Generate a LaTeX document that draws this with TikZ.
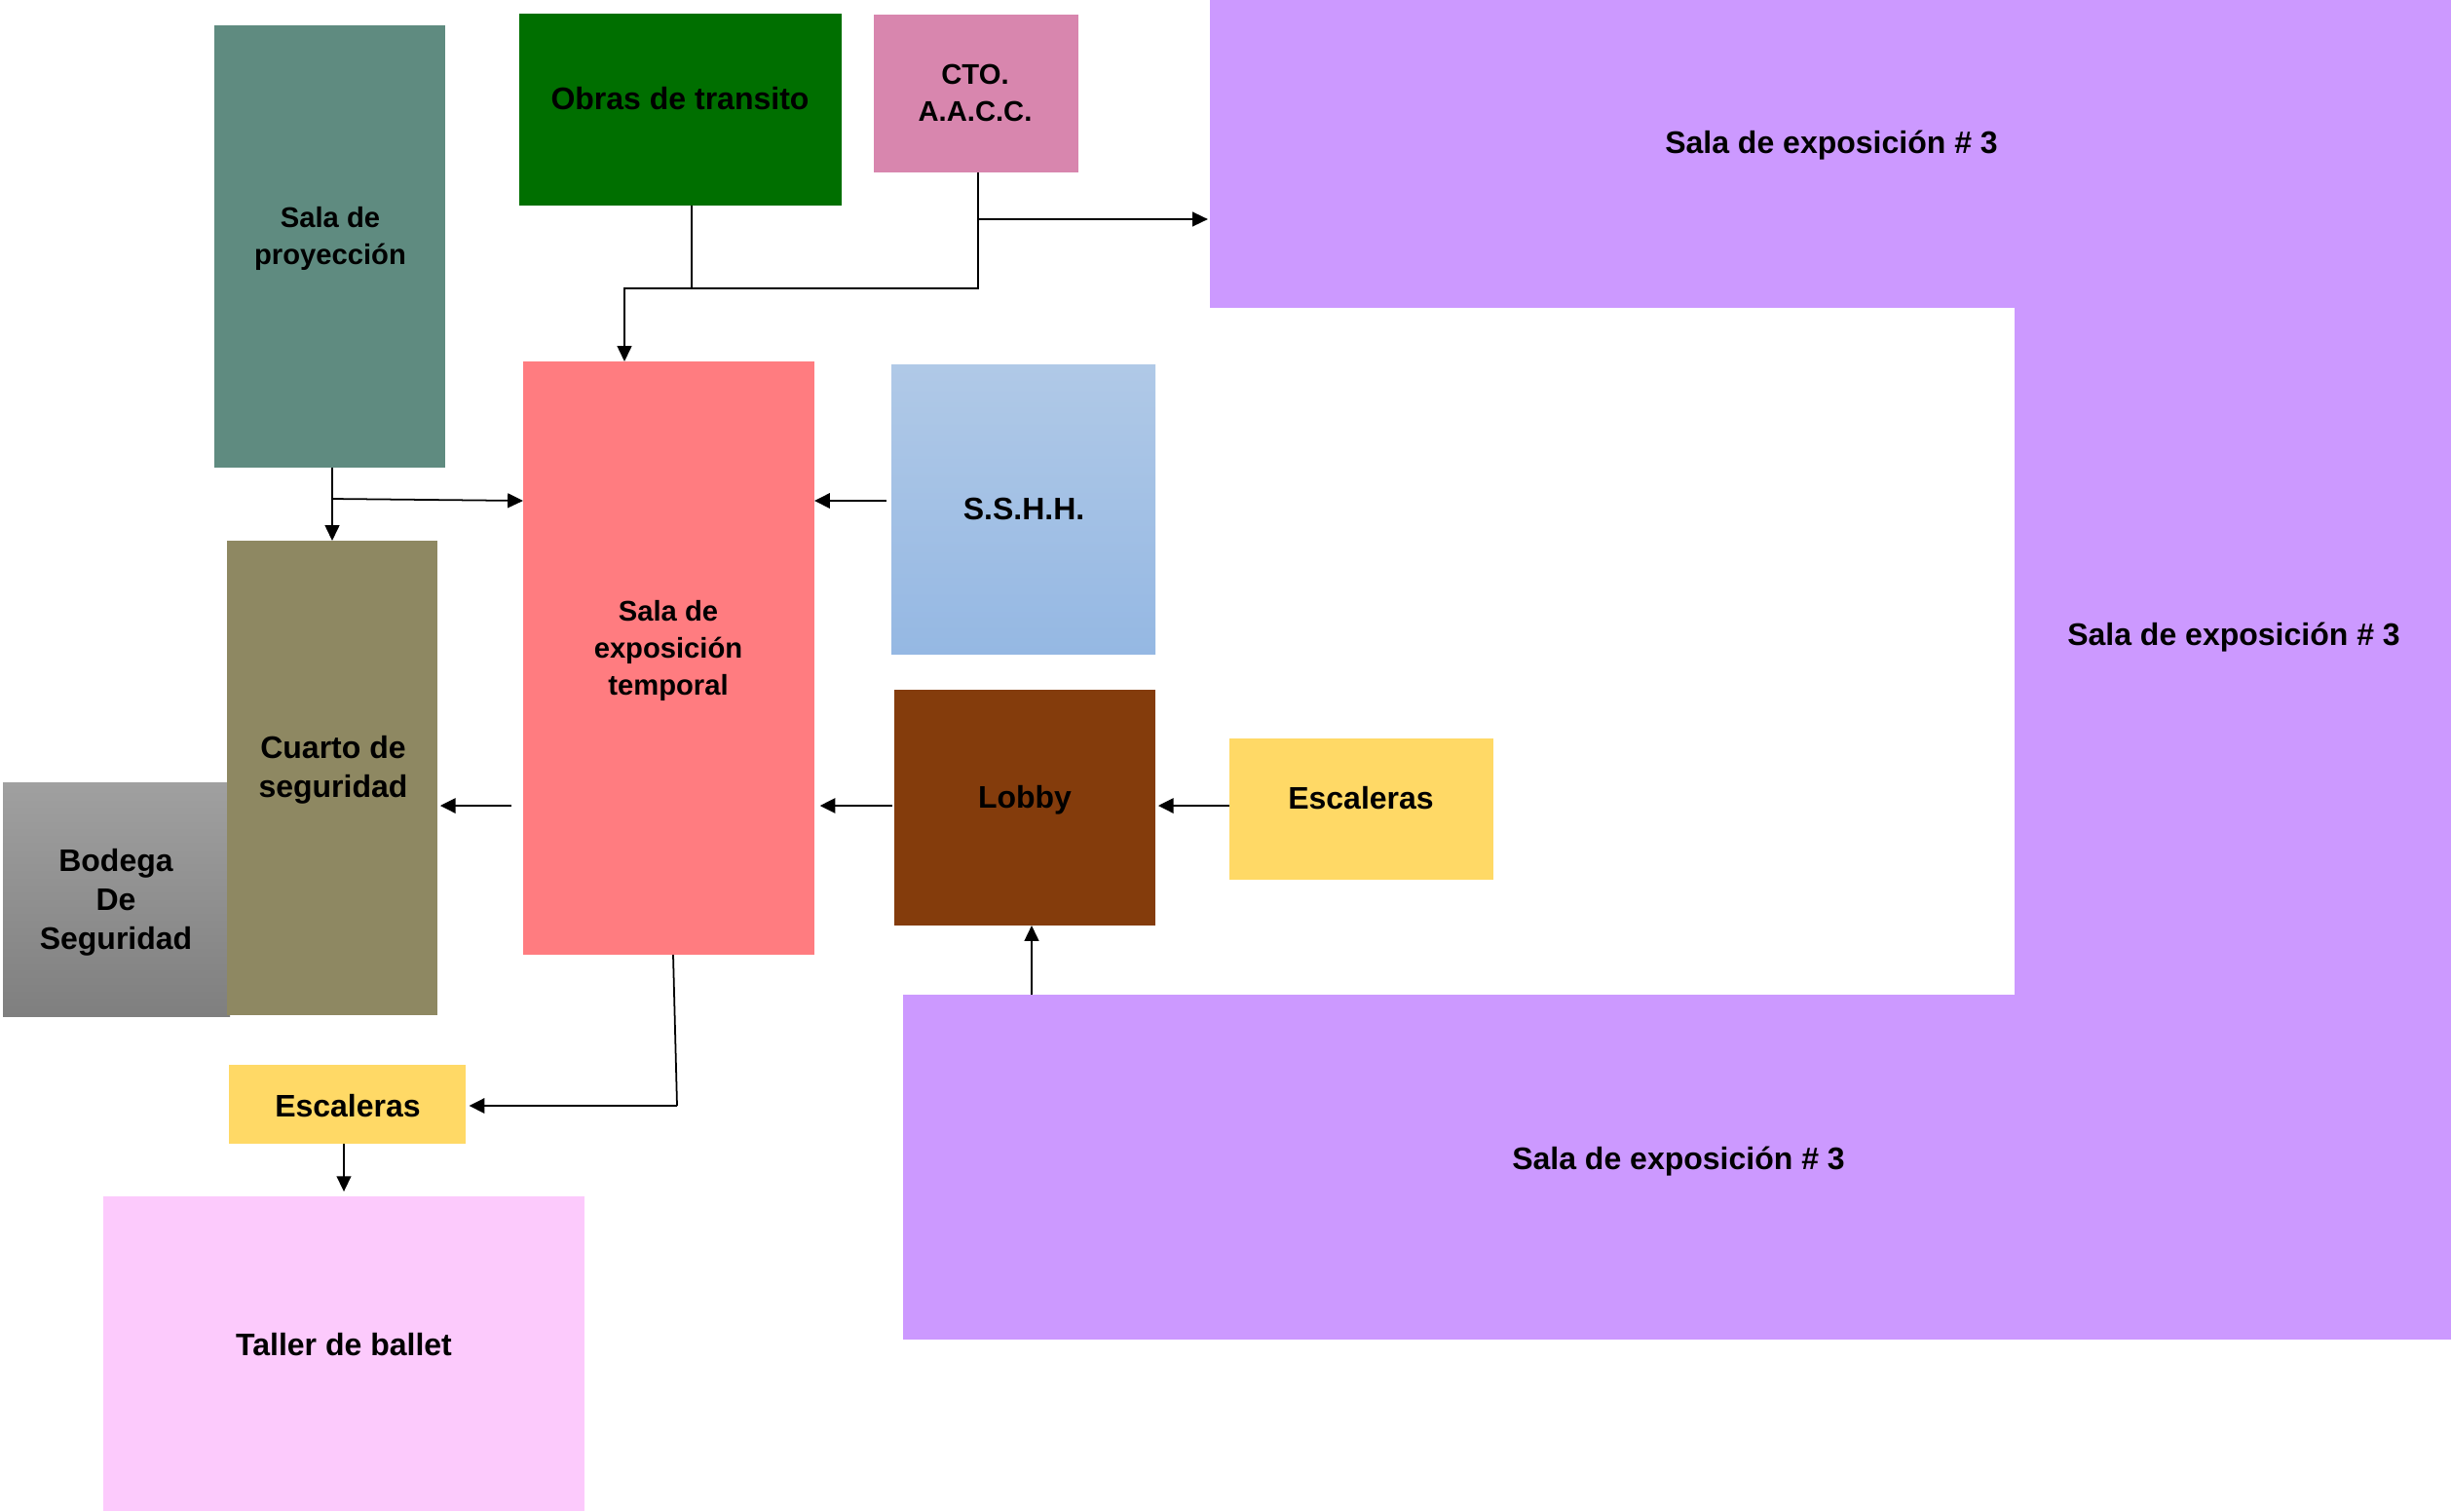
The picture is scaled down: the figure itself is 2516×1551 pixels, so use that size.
\documentclass[tikz,border=0pt]{standalone}
\usepackage{fontspec}
\setmainfont{Liberation Sans}
\usetikzlibrary{arrows.meta,fit}
\definecolor{proyC}{HTML}{5F8B80}
\definecolor{obrasC}{HTML}{006F00}
\definecolor{ctoC}{HTML}{D886AE}
\definecolor{purpC}{HTML}{CC99FF}
\definecolor{tempC}{HTML}{FF7C80}
\definecolor{sshhTop}{HTML}{B0C9E7}
\definecolor{sshhBot}{HTML}{95B8E3}
\definecolor{lobbyC}{HTML}{843C0C}
\definecolor{escC}{HTML}{FFD966}
\definecolor{cuartoC}{HTML}{8E8862}
\definecolor{bodTop}{HTML}{A0A0A0}
\definecolor{bodBot}{HTML}{7F7F7F}
\definecolor{tallerC}{HTML}{FCCAFC}
\begin{document}
\begin{tikzpicture}[x=0.01cm,y=-0.01cm,
  box/.style={inner sep=0pt,outer sep=0pt,draw=none},
  lblA/.style={font=\bfseries\fontsize{9.1}{11.4}\selectfont,align=center,inner sep=0pt,text=black},
  lblB/.style={font=\bfseries\fontsize{8.3}{10.8}\selectfont,align=center,inner sep=0pt,text=black},
  conn/.style={line width=0.5pt,black},
  arr/.style={conn,-{Triangle[length=4.5pt,width=4.2pt]}},
  arrthick/.style={line width=0.8pt,black,-{Triangle[length=4.5pt,width=4.3pt]}}
  ]
\fill[white] (0,0) rectangle (2516,1551);
\useasboundingbox (0,0) rectangle (2516,1551);

% purple exhibition hall (L-shape made of three parts)
\node[box,fill=purpC,fit={(1242,0) (2516,316)}] (salaTop) {};
\node[box,fill=purpC,fit={(2068,0) (2516,1375)}] (salaRight) {};
\node[box,fill=purpC,fit={(927,1021) (2516,1375)}] (salaBot) {};
\node[lblA] (salaTop-t) at (1880,149) {Sala de exposición \# 3};
\node[lblA] (salaRight-t) at (2293,654) {Sala de exposición \# 3};
\node[lblA] (salaBot-t) at (1723,1192) {Sala de exposición \# 3};

% boxes
\node[box,fill=proyC,fit={(220,26) (457,480)}] (proy) {};
\node[lblB] (proy-t) at (339,245) {Sala de\\proyección};

\node[box,fill=obrasC,fit={(533,14) (864,211)}] (obras) {};
\node[lblA] (obras-t) at (698,101) {Obras de transito};

\node[box,fill=ctoC,fit={(897,15) (1107,177)}] (cto) {};
\node[lblB] (cto-t) at (1001,95) {CTO.\\A.A.C.C.};

\node[box,fill=tempC,fit={(537,371) (836,980)}] (temporal) {};
\node[lblB] (temporal-t) at (686,668) {Sala de\\exposición\\temporal};

\node[box,top color=sshhTop,bottom color=sshhBot,fit={(915,374) (1186,671)}] (sshh) {};
\node[lblA] (sshh-t) at (1051,522) {S.S.H.H.};

\node[box,fill=lobbyC,fit={(918,708) (1186,950)}] (lobby) {};
\node[lblA] (lobby-t) at (1052,821) {Lobby};

\node[box,fill=escC,fit={(1262,758) (1533,903)}] (escR) {};
\node[lblA] (escR-t) at (1397,819) {Escaleras};

\node[box,top color=bodTop,bottom color=bodBot,fit={(3,803) (236,1043)}] (bodega) {};
\node[lblA] (bodega-t) at (119,926) {Bodega\\De\\Seguridad};

\node[box,fill=cuartoC,fit={(233,555) (449,1042)}] (cuarto) {};
\node[lblA] (cuarto-t) at (342,790) {Cuarto de\\seguridad};

\node[box,fill=escC,fit={(235,1093) (478,1174)}] (escL) {};
\node[lblA] (escL-t) at (357,1135) {Escaleras};

\node[box,fill=tallerC,fit={(106,1228) (600,1551)}] (taller) {};
\node[lblA] (taller-t) at (353,1380) {Taller de ballet};

% junction coordinates
\coordinate (ctoB) at (1004,177);
\coordinate (jCtoSala) at (1004,225);
\coordinate (jTop) at (1004,296);
\coordinate (jTemp) at (641,296);
\coordinate (jObras) at (710,296);
\coordinate (jProy) at (341,512);
\coordinate (jTempB) at (695,1135);

% connectors
\draw[arr] (ctoB) -- (jTop) -- (jTemp) -- (jTemp |- temporal.north);
\draw[conn] (jObras |- obras.south) -- (jObras);
\draw[arr] (jCtoSala) -- ([xshift=-0.6pt]salaTop.west |- jCtoSala);
\draw[arr] (jProy |- proy.south) -- (jProy |- cuarto.north);
\draw[arr] (jProy) -- (temporal.west |- 0,514);
\draw[arrthick,shorten <=1.4pt] (sshh.west |- 0,514) -- (temporal.east |- 0,514);
\draw[arrthick,shorten <=0.6pt,shorten >=1.6pt] (lobby.west |- 0,827) -- (temporal.east |- 0,827);
\draw[arrthick,shorten <=3.4pt,shorten >=0.8pt] (temporal.west |- 0,827) -- (cuarto.east |- 0,827);
\draw[arrthick,shorten >=0.8pt] (escR.west |- 0,827) -- (lobby.east |- 0,827);
\draw[arr] (salaBot.north -| 1059,0) -- (lobby.south -| 1059,0);
\draw[conn] (temporal.south -| 691,0) -- (jTempB);
\draw[arrthick] (jTempB) -- ([xshift=1pt]escL.east |- jTempB);
\draw[arr,shorten >=1.4pt] (escL.south -| 353,0) -- (taller.north -| 353,0);
\end{tikzpicture}
\end{document}
